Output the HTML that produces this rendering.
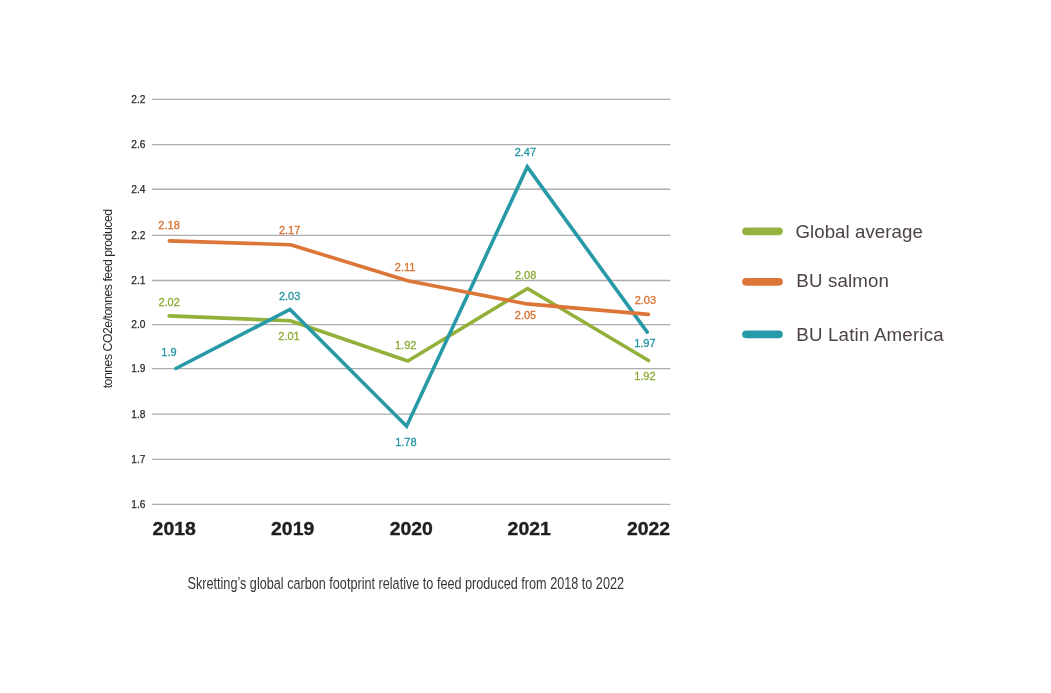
<!DOCTYPE html>
<html>
<head>
<meta charset="utf-8">
<style>
html,body{margin:0;padding:0;background:#fff;width:1051px;height:693px;overflow:hidden;}
svg{display:block;will-change:transform;font-family:"Liberation Sans",sans-serif;}
</style>
</head>
<body>
<svg width="1051" height="693" viewBox="0 0 1051 693">
<rect width="1051" height="693" fill="#fff"/>

<g stroke="#acacac" stroke-width="1.3">
<line x1="152.0" y1="99.47" x2="670.3" y2="99.47"/>
<line x1="152.0" y1="144.62" x2="670.3" y2="144.62"/>
<line x1="152.0" y1="189.27" x2="670.3" y2="189.27"/>
<line x1="152.0" y1="235.34" x2="670.3" y2="235.34"/>
<line x1="152.0" y1="280.48" x2="670.3" y2="280.48"/>
<line x1="152.0" y1="324.54" x2="670.3" y2="324.54"/>
<line x1="152.0" y1="368.62" x2="670.3" y2="368.62"/>
<line x1="152.0" y1="414.19" x2="670.3" y2="414.19"/>
<line x1="152.0" y1="459.34" x2="670.3" y2="459.34"/>
<line x1="152.0" y1="504.34" x2="670.3" y2="504.34"/>
</g>
<g fill="#2b2b2b" stroke="#2b2b2b" stroke-width="0.25" font-size="10.2" text-anchor="end">
<text x="145.4" y="103.07">2.2</text>
<text x="145.4" y="148.22">2.6</text>
<text x="145.4" y="192.87">2.4</text>
<text x="145.4" y="238.94">2.2</text>
<text x="145.4" y="284.08">2.1</text>
<text x="145.4" y="328.14">2.0</text>
<text x="145.4" y="372.22">1.9</text>
<text x="145.4" y="417.79">1.8</text>
<text x="145.4" y="462.94">1.7</text>
<text x="145.4" y="507.94">1.6</text>
</g>
<text transform="translate(112,388.3) rotate(-90)" font-size="12.3" fill="#2a2a2a" textLength="179.4" lengthAdjust="spacing">tonnes CO2e/tonnes feed produced</text>
<g fill="#1f1f1f" stroke="#1f1f1f" stroke-width="0.35" font-size="18.6" font-weight="bold" text-anchor="middle">
<text transform="translate(174.2,535.0) scale(1.045,1)">2018</text>
<text transform="translate(292.65,535.0) scale(1.045,1)">2019</text>
<text transform="translate(411.25,535.0) scale(1.045,1)">2020</text>
<text transform="translate(529.2,535.0) scale(1.045,1)">2021</text>
<text transform="translate(648.5,535.0) scale(1.045,1)">2022</text>
</g>
<g fill="none" stroke-linecap="round">
<polyline stroke="#93b03b" stroke-width="3.6" stroke-linejoin="round" points="169.2,315.9 290.3,320.8 407.9,361.0 527.5,288.5 648.5,360.5"/>
<polyline stroke="#2899a6" stroke-width="3.6" stroke-linejoin="miter" points="175.9,368.5 290,309.5 406.6,426.2 527.3,166.9 647.2,332.1"/>
<polyline stroke="#db7638" stroke-width="3.6" stroke-linejoin="round" points="169.4,240.9 290.5,244.7 407.7,280.8 527,303.9 648.4,314.4"/>
</g>
<g font-size="11.6" text-anchor="middle" stroke-width="0.28">
<text transform="translate(169.05,229.10) scale(0.95,1)" fill="#d96e2c" stroke="#d96e2c">2.18</text>
<text transform="translate(289.6,233.80) scale(0.95,1)" fill="#d96e2c" stroke="#d96e2c">2.17</text>
<text transform="translate(405.1,271.30) scale(0.95,1)" fill="#d96e2c" stroke="#d96e2c">2.11</text>
<text transform="translate(525.5,318.70) scale(0.95,1)" fill="#d96e2c" stroke="#d96e2c">2.05</text>
<text transform="translate(645.4,304.20) scale(0.95,1)" fill="#d96e2c" stroke="#d96e2c">2.03</text>
<text transform="translate(169.15,306.10) scale(0.95,1)" fill="#8aab33" stroke="#8aab33">2.02</text>
<text transform="translate(289.0,339.70) scale(0.95,1)" fill="#8aab33" stroke="#8aab33">2.01</text>
<text transform="translate(405.7,348.90) scale(0.95,1)" fill="#8aab33" stroke="#8aab33">1.92</text>
<text transform="translate(525.65,278.90) scale(0.95,1)" fill="#8aab33" stroke="#8aab33">2.08</text>
<text transform="translate(644.9,380.10) scale(0.95,1)" fill="#8aab33" stroke="#8aab33">1.92</text>
<text transform="translate(169.0,355.90) scale(0.95,1)" fill="#1f93a0" stroke="#1f93a0">1.9</text>
<text transform="translate(289.65,300.20) scale(0.95,1)" fill="#1f93a0" stroke="#1f93a0">2.03</text>
<text transform="translate(405.9,445.70) scale(0.95,1)" fill="#1f93a0" stroke="#1f93a0">1.78</text>
<text transform="translate(525.4,156.10) scale(0.95,1)" fill="#1f93a0" stroke="#1f93a0">2.47</text>
<text transform="translate(644.9,346.60) scale(0.95,1)" fill="#1f93a0" stroke="#1f93a0">1.97</text>
</g>
<g stroke-width="7.7" stroke-linecap="round">
<line x1="746" y1="231.3" x2="779" y2="231.3" stroke="#96b240"/>
<line x1="746" y1="281.8" x2="779" y2="281.8" stroke="#db7638"/>
<line x1="746" y1="334.3" x2="779" y2="334.3" stroke="#2899a6"/>
</g>
<g fill="#4d4442" font-size="18.7">
<text x="795.4" y="238.1" textLength="127.5" lengthAdjust="spacing">Global average</text>
<text x="796.3" y="286.6" textLength="92.7" lengthAdjust="spacing">BU salmon</text>
<text x="796.3" y="341.4" textLength="147.3" lengthAdjust="spacing">BU Latin America</text>
</g>
<text x="187.5" y="588.9" font-size="16.8" fill="#383838" textLength="436.5" lengthAdjust="spacingAndGlyphs">Skretting’s global carbon footprint relative to feed produced from 2018 to 2022</text>
</svg>
</body>
</html>
